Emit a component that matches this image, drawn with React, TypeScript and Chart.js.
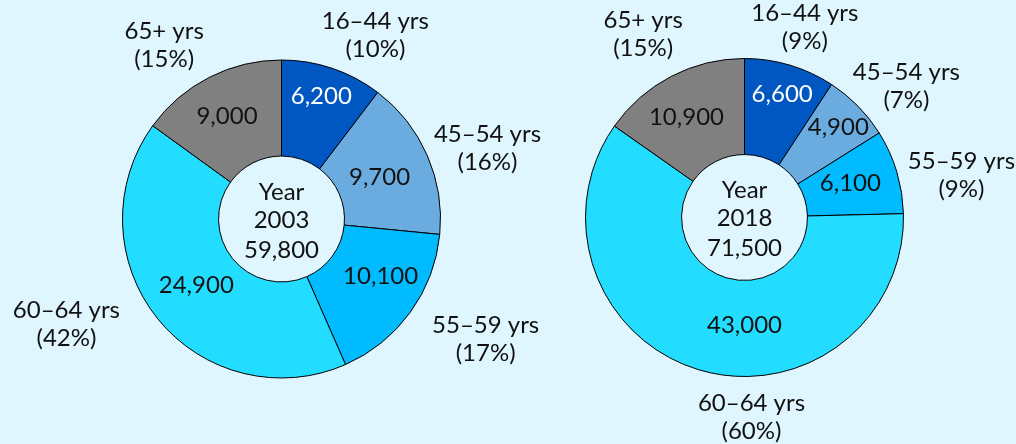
import React, { useEffect, useRef } from "react";
import { Chart, registerables } from "chart.js";

Chart.register(...registerables);

const categories = ["16–44 yrs", "45–54 yrs", "55–59 yrs", "60–64 yrs", "65+ yrs"];
const values2003 = [6200, 9700, 10100, 24900, 9000];
const values2018 = [6600, 4900, 6100, 43000, 10900];
const percent2003 = ["10%", "16%", "17%", "42%", "15%"];
const percent2018 = ["9%", "7%", "9%", "60%", "15%"];
const total2003 = "59,800";
const total2018 = "71,500";
const colors = ["#0057c2", "#6aacdf", "#00bbff", "#22ddff", "#808080"];
const valueTextColors = ["#ffffff", "#111111", "#111111", "#111111", "#111111"];

// label placement: [degrees clockwise from top, distance as ratio of outer radius]
const valuePlace2003 = [[18, 0.81], [67, 0.67], [120, 0.72], [232, 0.68], [332, 0.73]];
const valuePlace2018 = [[17, 0.81], [46, 0.82], [72, 0.7], [180, 0.68], [330, 0.73]];
const calloutPlace2003 = [[27, 1.3], [71, 1.37], [120.5, 1.49], [244, 1.505], [326, 1.32]];
const calloutPlace2018 = [[17.6, 1.255], [51, 1.31], [79, 1.39], [178, 1.255], [331, 1.315]];

const FONT = "24px Lato, 'Noto Sans', sans-serif";
const TEXT = "#111111";

function fmt(n: number) {
  return n.toLocaleString("en-US");
}

function makeLabelPlugin(cfg: any) {
  return {
    id: "labels_" + cfg.year,
    afterDatasetsDraw(chart: any) {
      const meta = chart.getDatasetMeta(0);
      const ctx = chart.ctx;
      ctx.save();
      ctx.font = FONT;
      ctx.textAlign = "center";
      ctx.textBaseline = "middle";
      let cx = 0, cy = 0, R = 0;
      meta.data.forEach((arc: any, i: number) => {
        const p = arc.getProps(["x", "y", "outerRadius", "innerRadius"], true);
        cx = p.x; cy = p.y; R = p.outerRadius;
        const [va, vd] = cfg.valuePlace[i];
        const t1 = ((va - 90) * Math.PI) / 180;
        ctx.fillStyle = valueTextColors[i];
        ctx.fillText(fmt(cfg.values[i]), cx + Math.cos(t1) * vd * R, cy + Math.sin(t1) * vd * R);
        const [ca, cd] = cfg.calloutPlace[i];
        const t2 = ((ca - 90) * Math.PI) / 180;
        const lx = cx + Math.cos(t2) * cd * R;
        const ly = cy + Math.sin(t2) * cd * R;
        ctx.fillStyle = TEXT;
        ctx.fillText(categories[i], lx, ly - 14);
        ctx.fillText("(" + cfg.percents[i] + ")", lx, ly + 14);
      });
      ctx.fillStyle = TEXT;
      ctx.fillText("Year", cx, cy - 27);
      ctx.fillText(String(cfg.year), cx, cy + 1);
      ctx.fillText(cfg.total, cx, cy + 31);
      ctx.restore();
    },
  };
}

function Donut(props: { cfg: any }) {
  const ref = useRef<HTMLCanvasElement | null>(null);
  useEffect(() => {
    const cfg = props.cfg;
    const chart = new Chart(ref.current as HTMLCanvasElement, {
      type: "doughnut",
      data: {
        labels: categories,
        datasets: [
          {
            data: cfg.values,
            backgroundColor: colors,
            borderColor: "#000000",
            borderWidth: 1,
          },
        ],
      },
      options: {
        responsive: false,
        animation: false,
        devicePixelRatio: 1,
        radius: 159,
        cutout: "39.6%",
        layout: { padding: cfg.padding },
        plugins: { legend: { display: false }, tooltip: { enabled: false } },
        events: [],
      } as any,
      plugins: [makeLabelPlugin(cfg)],
    });
    return () => chart.destroy();
  }, []);
  return (
    <canvas
      ref={ref}
      width={1016}
      height={444}
      style={{ position: "absolute", left: 0, top: 0, width: 1016, height: 444 }}
    />
  );
}

export default function App() {
  const left = {
    year: 2003,
    values: values2003,
    percents: percent2003,
    total: total2003,
    valuePlace: valuePlace2003,
    calloutPlace: calloutPlace2003,
    padding: { left: 0, right: 453, top: 0, bottom: 6 },
  };
  const right = {
    year: 2018,
    values: values2018,
    percents: percent2018,
    total: total2018,
    valuePlace: valuePlace2018,
    calloutPlace: calloutPlace2018,
    padding: { left: 473, right: 0, top: 0, bottom: 9 },
  };
  return (
    <div
      style={{
        position: "fixed",
        left: 0,
        top: 0,
        width: 1016,
        height: 444,
        background: "#dff6ff",
        overflow: "hidden",
      }}
    >
      <Donut cfg={left} />
      <Donut cfg={right} />
    </div>
  );
}
